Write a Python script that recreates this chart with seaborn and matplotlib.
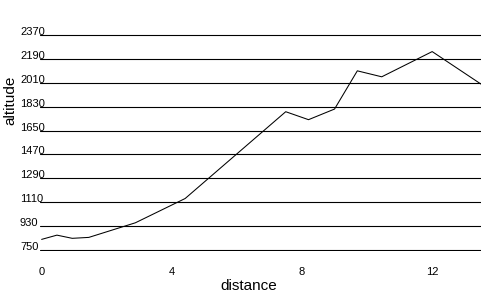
import matplotlib
matplotlib.use("Agg")
import matplotlib.pyplot as plt
import seaborn as sns
import pandas as pd

distance = [0.0, 0.47, 0.94, 1.45, 2.88, 4.41, 7.5, 8.2, 9.0, 9.7, 10.45, 12.0, 13.5]
altitude = [830, 862, 838, 845, 955, 1138, 1792, 1732, 1812, 2100, 2055, 2245, 2000]
y_ticks = [750, 930, 1110, 1290, 1470, 1650, 1830, 2010, 2190, 2370]
x_ticks = [0, 4, 8, 12]

df = pd.DataFrame({"distance": distance, "altitude": altitude})

sns.set_style("white")
plt.rcParams['font.family'] = ['Liberation Sans', 'DejaVu Sans']
plt.rcParams['text.color'] = 'black'
plt.rcParams['axes.labelcolor'] = 'black'

W, H = 500, 300
fig = plt.figure(figsize=(5, 3), dpi=100)
left, right = 40, 481
top, bottom = 33.67, 251.33
ax = fig.add_axes([left / W, 1 - bottom / H, (right - left) / W, (bottom - top) / H])

sns.lineplot(data=df, x="distance", y="altitude", ax=ax, color="black", linewidth=0.75)

ax.set_xlim(-0.05, 13.5)
ax.set_ylim(740, 2380)
ax.set_yticks(y_ticks)
ax.set_xticks(x_ticks)
ax.set_yticklabels([str(v) for v in y_ticks])
ax.set_xticklabels([str(v) for v in x_ticks])

ax.yaxis.grid(True, color="black", linewidth=0.8)
ax.xaxis.grid(False)
for s in ax.spines.values():
    s.set_visible(False)

ax.tick_params(axis="y", length=0, pad=14.4, labelsize=8, colors="black")
ax.tick_params(axis="x", length=0, pad=11.3, labelsize=8, colors="black")
for lab in ax.get_yticklabels():
    lab.set_horizontalalignment("left")
    lab.set_verticalalignment("baseline")

ax.set_xlabel("distance", fontsize=11, color="black")
ax.set_ylabel("altitude", fontsize=11, color="black")
ax.xaxis.set_label_coords((249 - left) / (right - left), -(286 - bottom) / (bottom - top))
ax.xaxis.label.set_va("center")
ax.yaxis.set_label_coords((10 - left) / (right - left), (bottom - 100) / (bottom - top))
ax.yaxis.label.set_va("center")
ax.yaxis.label.set_ha("center")

fig.savefig("out.png", dpi=100)
